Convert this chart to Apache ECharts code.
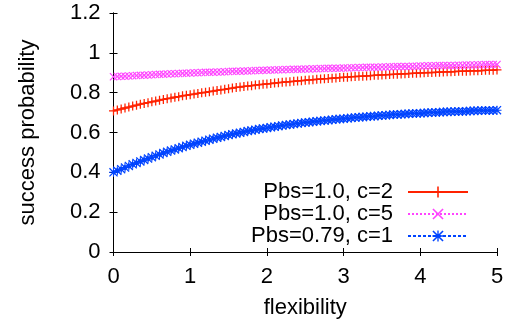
<!DOCTYPE html>
<html>
<head>
<meta charset="utf-8">
<script src="https://cdn.jsdelivr.net/npm/echarts@6/dist/echarts.min.js"></script>
<style>
  html, body { margin: 0; padding: 0; background: #fff; }
  #chart { width: 505px; height: 324px; }
</style>
</head>
<body>
<div id="chart"></div>
<script>
// flexibility grid
const flex = [
  0.00, 0.05, 0.10, 0.15, 0.20, 0.25, 0.30, 0.35, 0.40, 0.45,
  0.50, 0.55, 0.60, 0.65, 0.70, 0.75, 0.80, 0.85, 0.90, 0.95,
  1.00, 1.05, 1.10, 1.15, 1.20, 1.25, 1.30, 1.35, 1.40, 1.45,
  1.50, 1.55, 1.60, 1.65, 1.70, 1.75, 1.80, 1.85, 1.90, 1.95,
  2.00, 2.05, 2.10, 2.15, 2.20, 2.25, 2.30, 2.35, 2.40, 2.45,
  2.50, 2.55, 2.60, 2.65, 2.70, 2.75, 2.80, 2.85, 2.90, 2.95,
  3.00, 3.05, 3.10, 3.15, 3.20, 3.25, 3.30, 3.35, 3.40, 3.45,
  3.50, 3.55, 3.60, 3.65, 3.70, 3.75, 3.80, 3.85, 3.90, 3.95,
  4.00, 4.05, 4.10, 4.15, 4.20, 4.25, 4.30, 4.35, 4.40, 4.45,
  4.50, 4.55, 4.60, 4.65, 4.70, 4.75, 4.80, 4.85, 4.90, 4.95,
  5.00
]

// Pbs=1.0, c=2
const pbs10c2 = [
  0.708, 0.713, 0.718, 0.723, 0.728, 0.733, 0.737, 0.742, 0.746, 0.750,
  0.754, 0.758, 0.762, 0.766, 0.770, 0.773, 0.777, 0.780, 0.784, 0.787,
  0.790, 0.793, 0.796, 0.799, 0.802, 0.805, 0.808, 0.811, 0.814, 0.817,
  0.820, 0.823, 0.826, 0.828, 0.831, 0.833, 0.835, 0.838, 0.840, 0.842,
  0.844, 0.846, 0.848, 0.850, 0.852, 0.854, 0.855, 0.857, 0.859, 0.860,
  0.862, 0.864, 0.865, 0.867, 0.868, 0.870, 0.871, 0.873, 0.874, 0.876,
  0.877, 0.878, 0.880, 0.881, 0.882, 0.883, 0.884, 0.885, 0.887, 0.888,
  0.889, 0.890, 0.891, 0.892, 0.893, 0.894, 0.895, 0.896, 0.897, 0.898,
  0.899, 0.900, 0.901, 0.901, 0.902, 0.903, 0.904, 0.905, 0.905, 0.906,
  0.907, 0.908, 0.908, 0.909, 0.910, 0.910, 0.911, 0.912, 0.912, 0.913,
  0.914
]

// Pbs=1.0, c=5
const pbs10c5 = [
  0.880, 0.881, 0.882, 0.883, 0.884, 0.885, 0.886, 0.887, 0.888, 0.889,
  0.890, 0.891, 0.892, 0.893, 0.894, 0.895, 0.895, 0.896, 0.897, 0.898,
  0.899, 0.900, 0.900, 0.901, 0.902, 0.902, 0.903, 0.904, 0.904, 0.905,
  0.906, 0.907, 0.907, 0.908, 0.909, 0.909, 0.910, 0.911, 0.911, 0.912,
  0.913, 0.914, 0.914, 0.915, 0.915, 0.916, 0.916, 0.917, 0.918, 0.918,
  0.919, 0.919, 0.920, 0.920, 0.921, 0.921, 0.922, 0.922, 0.923, 0.923,
  0.924, 0.924, 0.925, 0.925, 0.926, 0.926, 0.927, 0.927, 0.928, 0.928,
  0.929, 0.929, 0.930, 0.930, 0.931, 0.931, 0.932, 0.932, 0.933, 0.933,
  0.934, 0.934, 0.935, 0.935, 0.935, 0.936, 0.936, 0.937, 0.937, 0.937,
  0.938, 0.938, 0.939, 0.939, 0.939, 0.940, 0.940, 0.941, 0.941, 0.941,
  0.942
]

// Pbs=0.79, c=1
const pbs079c1 = [
  0.400, 0.408, 0.416, 0.424, 0.432, 0.440, 0.447, 0.455, 0.462, 0.469,
  0.476, 0.483, 0.490, 0.497, 0.503, 0.509, 0.515, 0.521, 0.527, 0.533,
  0.538, 0.544, 0.549, 0.554, 0.559, 0.564, 0.569, 0.574, 0.578, 0.583,
  0.587, 0.591, 0.595, 0.599, 0.603, 0.607, 0.610, 0.614, 0.617, 0.620,
  0.623, 0.626, 0.629, 0.632, 0.635, 0.638, 0.640, 0.643, 0.645, 0.648,
  0.650, 0.652, 0.654, 0.656, 0.658, 0.660, 0.662, 0.664, 0.666, 0.668,
  0.669, 0.671, 0.673, 0.675, 0.676, 0.678, 0.679, 0.681, 0.682, 0.684,
  0.685, 0.687, 0.688, 0.690, 0.691, 0.692, 0.693, 0.694, 0.695, 0.696,
  0.697, 0.698, 0.699, 0.700, 0.701, 0.702, 0.703, 0.704, 0.704, 0.705,
  0.706, 0.706, 0.707, 0.708, 0.709, 0.709, 0.710, 0.710, 0.711, 0.711,
  0.712
]

const names = ['Pbs=1.0, c=2', 'Pbs=1.0, c=5', 'Pbs=0.79, c=1']

const PLUS = 'path://M0,4.3H10V5.7H0Z M4.3,0H5.7V10H4.3Z'
const CROSS = 'path://M0,1L1,0L10,9L9,10Z M9,0L10,1L1,10L0,9Z'
const STAR = 'path://M0,1L1,0L10,9L9,10Z M9,0L10,1L1,10L0,9Z M0,4.4H10V5.6H0Z M4.4,0H5.6V10H4.4Z'

const FONT = 'Liberation Sans'

function pairs(ys) {
  return flex.map((x, i) => [x, ys[i]])
}

const chart = echarts.init(document.getElementById('chart'))

const frameAxis = {
  axisLine: { show: true, lineStyle: { color: '#000', width: 1 } },
  axisTick: { show: true, inside: true, length: 4, lineStyle: { color: '#000' } },
  splitLine: { show: false },
}

function legendFor(name, top) {
  return {
    data: [name],
    right: 36,
    top,
    padding: 0,
    align: 'right',
    itemWidth: 60,
    itemHeight: 14,
    textStyle: { fontFamily: FONT, fontSize: 22, color: '#000', padding: [0, 10, 0, 0] },
  }
}

chart.setOption({
  animation: false,
  grid: { left: 113.5, right: 8, top: 13, bottom: 72, outerBoundsMode: 'none' },
  legend: [
    legendFor(names[0], 181),
    legendFor(names[1], 203),
    legendFor(names[2], 225),
  ],
  xAxis: [
    {
      type: 'value', min: 0, max: 5, interval: 1,
      name: 'flexibility', nameLocation: 'middle', nameGap: 45,
      nameTextStyle: { fontFamily: FONT, fontSize: 22, color: '#000' },
      axisLabel: { fontFamily: FONT, fontSize: 22, color: '#000', margin: 14 },
      ...frameAxis,
    },
    {
      type: 'value', min: 0, max: 5, interval: 1, position: 'top',
      axisLabel: { show: false },
      ...frameAxis,
    },
  ],
  yAxis: [
    {
      type: 'value', min: 0, max: 1.2, interval: 0.2,
      name: 'success probability', nameLocation: 'middle', nameGap: 75,
      nameTextStyle: { fontFamily: FONT, fontSize: 22, color: '#000' },
      axisLabel: { fontFamily: FONT, fontSize: 22, color: '#000', margin: 13 },
      ...frameAxis,
    },
    {
      type: 'value', min: 0, max: 1.2, interval: 0.2, position: 'right',
      axisLabel: { show: false },
      ...frameAxis,
    },
  ],
  series: [
    {
      name: names[0], type: 'line', data: pairs(pbs10c2),
      symbol: PLUS, symbolSize: 9,
      itemStyle: { color: '#ff2200' },
      lineStyle: { color: '#ff2200', width: 1.5 },
    },
    {
      name: names[1], type: 'line', data: pairs(pbs10c5),
      symbol: CROSS, symbolSize: 8,
      itemStyle: { color: '#ff44ff' },
      lineStyle: { color: '#ff44ff', width: 1, type: 'dotted' },
    },
    {
      name: names[2], type: 'line', data: pairs(pbs079c1),
      symbol: STAR, symbolSize: 9,
      itemStyle: { color: '#0044ff' },
      lineStyle: { color: '#0044ff', width: 1, type: [3, 2] },
    },
  ],
})
</script>
</body>
</html>
